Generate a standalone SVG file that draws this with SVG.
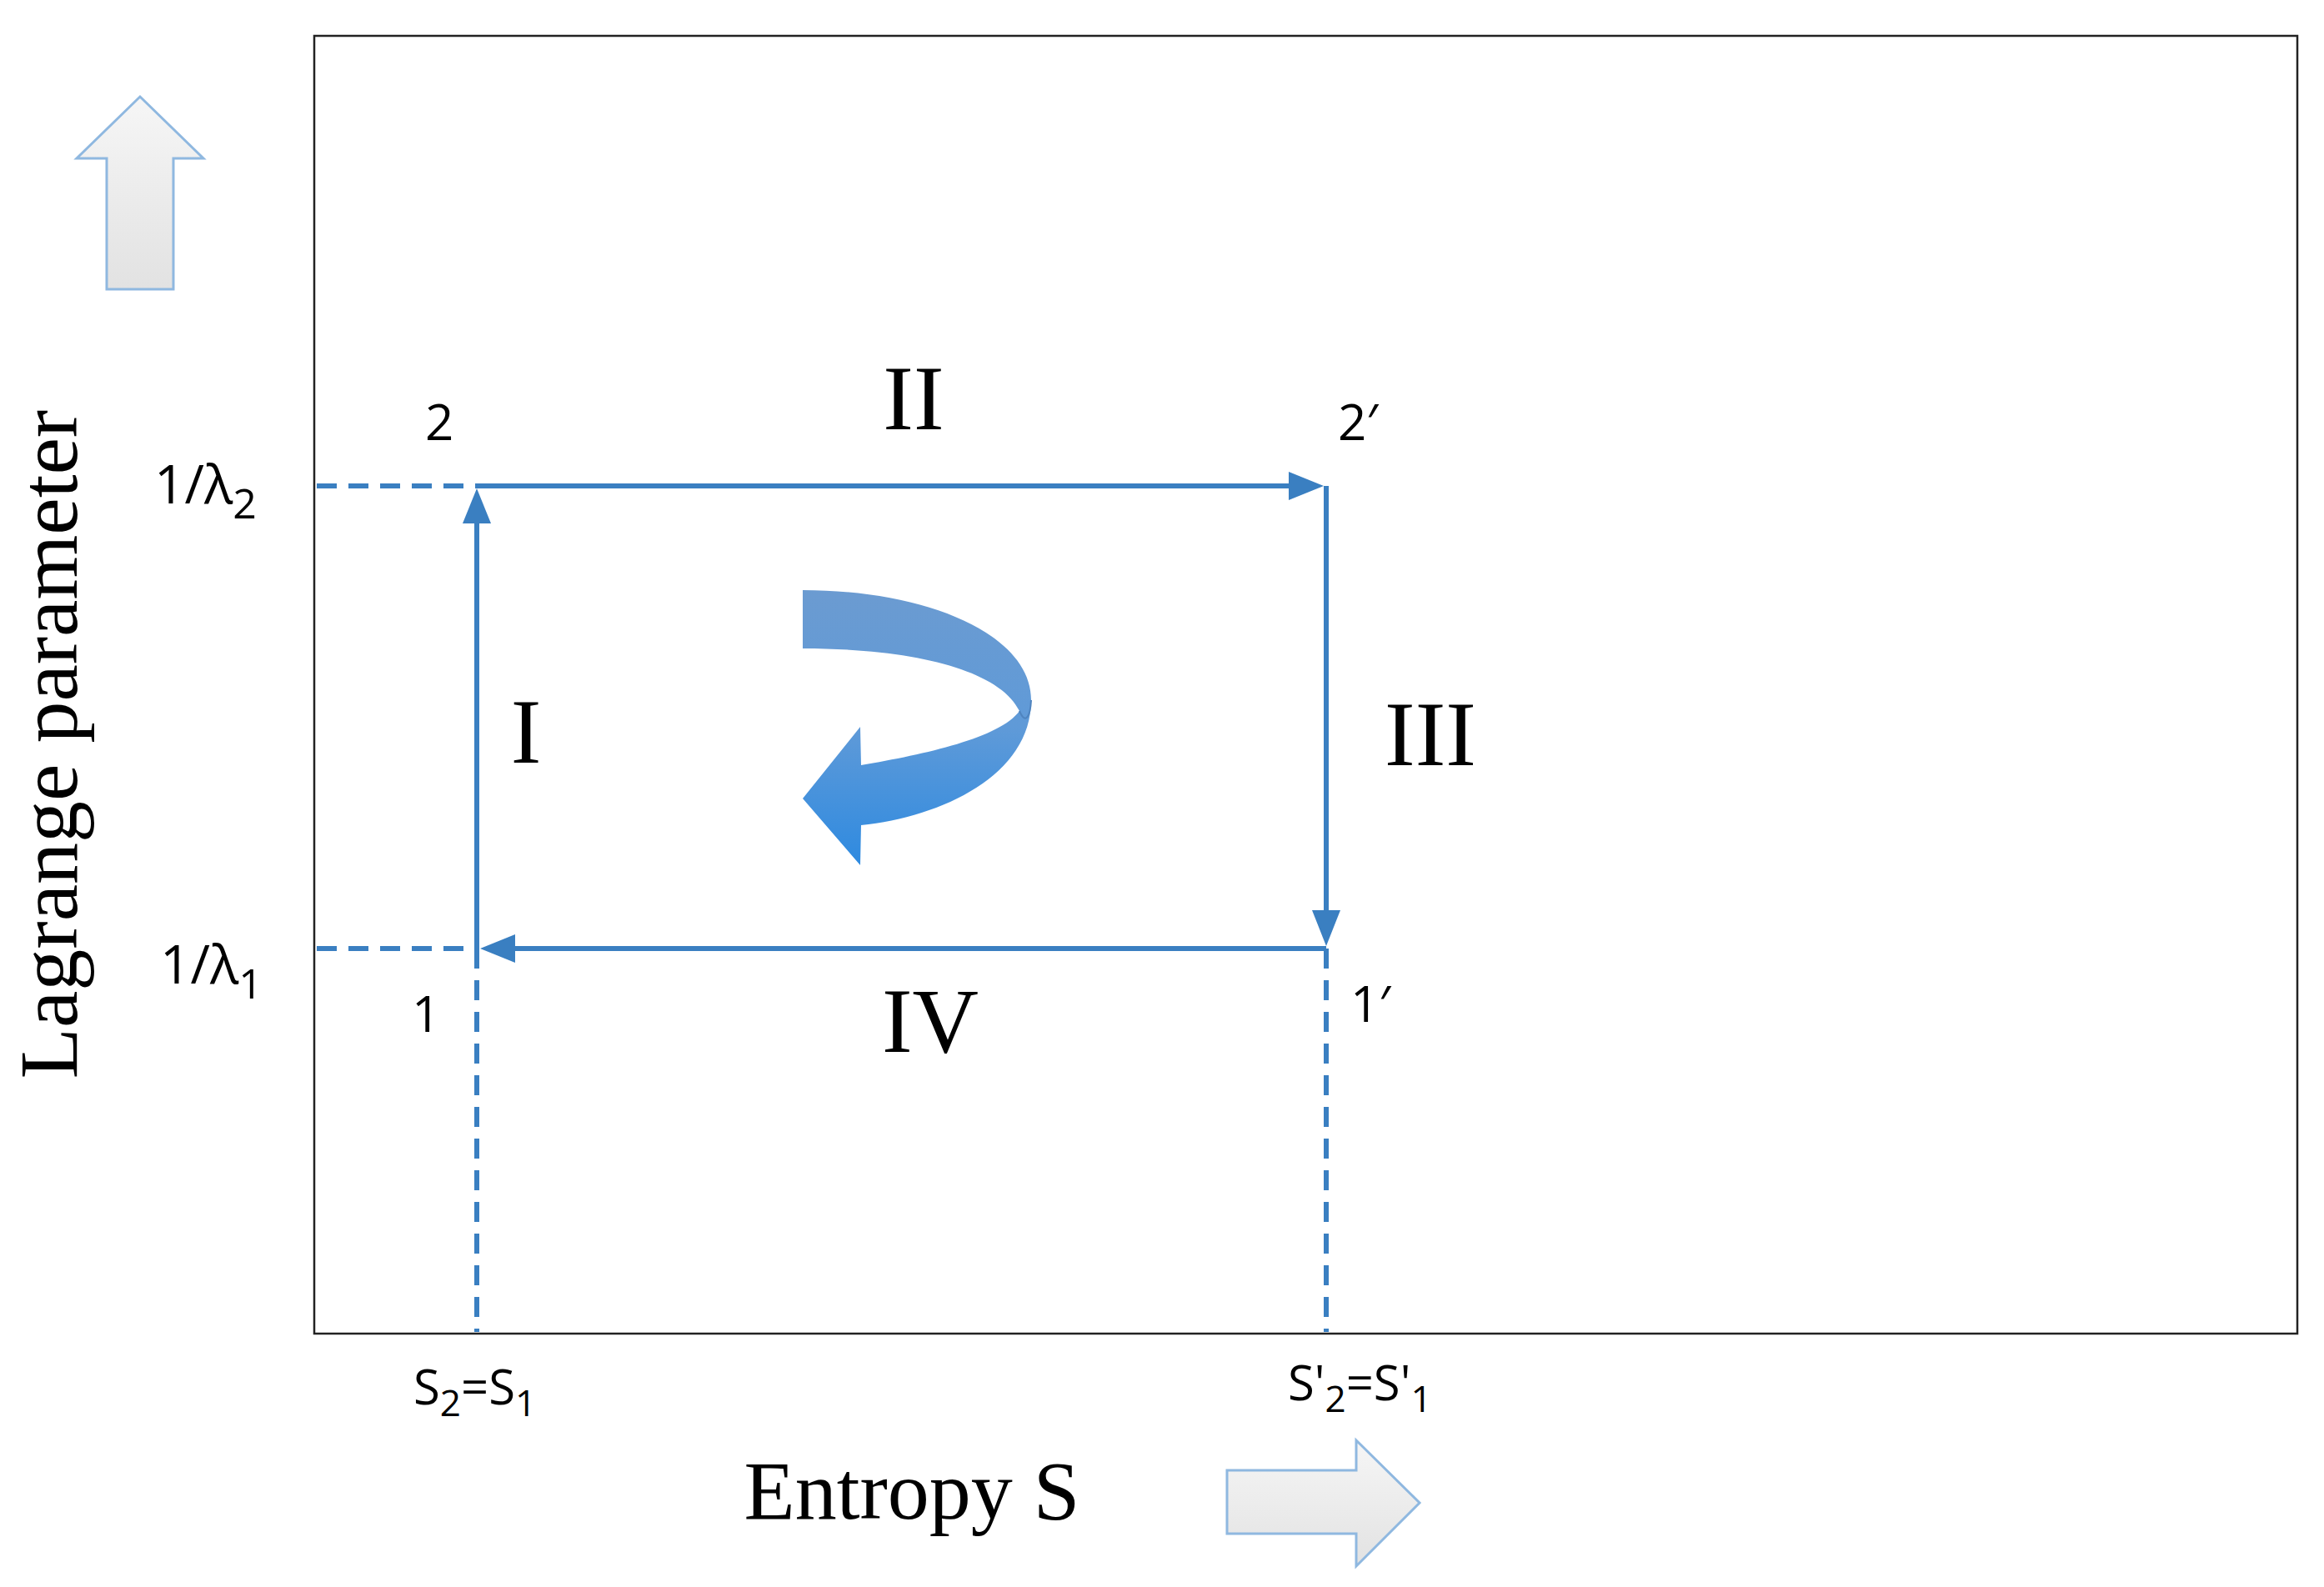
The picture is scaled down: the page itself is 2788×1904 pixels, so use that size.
<svg xmlns="http://www.w3.org/2000/svg" width="2788" height="1904" viewBox="0 0 2788 1904">
<style>
.ln{stroke:#3a7fc1;stroke-width:6;fill:none}
.ds{stroke:#3a7fc1;stroke-width:6;fill:none;stroke-dasharray:24,14}
.sans{font-family:"Open Sans","Liberation Sans",sans-serif;fill:#000}
.serif{font-family:"Liberation Serif",serif;fill:#000}
.big{font-family:"Liberation Serif",serif;font-size:110px;fill:#000;text-anchor:middle}
</style>
<defs>
<linearGradient id="gr" x1="0" y1="0" x2="0" y2="1"><stop offset="0" stop-color="#f6f6f6"/><stop offset="1" stop-color="#e2e2e2"/></linearGradient>
<linearGradient id="cb" x1="0" y1="0" x2="0" y2="1"><stop offset="0" stop-color="#6b9bd1"/><stop offset="0.5" stop-color="#5f9ad8"/><stop offset="1" stop-color="#2e8ae0"/></linearGradient>
</defs>
<rect x="0" y="0" width="2788" height="1904" fill="#fff"/>
<rect id="frame" x="377" y="43" width="2379" height="1557" fill="none" stroke="#222" stroke-width="2.5"/>
<g id="connectors">
<line class="ds" x1="380" y1="583" x2="572" y2="583"/>
<line class="ds" x1="380" y1="1138" x2="572" y2="1138"/>
<line class="ds" x1="572" y1="1138" x2="572" y2="1598"/>
<line class="ds" x1="1591" y1="1138" x2="1591" y2="1598"/>
<path class="ln" d="M572,1138 L572,600"/>
<path d="M555,628 L572,586 L589,628 Z" fill="#3a7fc1"/>
<path class="ln" d="M572,583 L1570,583"/>
<path d="M1546,566 L1588,583 L1546,600 Z" fill="#3a7fc1"/>
<path class="ln" d="M1591,583 L1591,1120"/>
<path d="M1574,1092 L1591,1135 L1608,1092 Z" fill="#3a7fc1"/>
<path class="ln" d="M1591,1138 L590,1138"/>
<path d="M618,1121 L576,1138 L618,1155 Z" fill="#3a7fc1"/>
</g>
<g id="cycle-arrow">
<path d="M963,708 C1110,708 1237,760 1237,840 C1237,930 1130,980 1033,990 L1032,1038 L963,958 L1032,872 L1033,918 C1110,905 1200,885 1223,853 C1200,805 1100,778 963,778 Z" fill="url(#cb)"/>
<path d="M1223,853 C1230,870 1236,860 1237,840" fill="none" stroke="#4f84bf" stroke-width="2"/>
</g>
<g id="up-arrow"><path d="M128,347 L128,190 L92,190 L168,116 L244,190 L208,190 L208,347 Z" fill="url(#gr)" stroke="#8fb8e0" stroke-width="3"/></g>
<g id="right-arrow"><path d="M1472,1764 L1627,1764 L1627,1728 L1703,1803 L1627,1879 L1627,1840 L1472,1840 Z" fill="url(#gr)" stroke="#8fb8e0" stroke-width="3"/></g>
<g id="labels">
<text class="big" x="1096" y="515">II</text>
<text class="big" x="631" y="915">I</text>
<text class="big" x="1716" y="918">III</text>
<text class="big" x="1116" y="1262">IV</text>
<text class="sans" font-size="60" x="510" y="528">2</text>
<text class="sans" font-size="60" x="1605" y="528">2′</text>
<text class="sans" font-size="60" x="494" y="1238">1</text>
<text class="sans" font-size="60" x="1620" y="1226">1′</text>
<text class="sans" font-size="64" x="185" y="604">1/λ<tspan font-size="50" dy="18">2</tspan></text>
<text class="sans" font-size="64" x="192" y="1180">1/λ<tspan font-size="50" dy="18">1</tspan></text>
<text class="sans" font-size="58" x="496" y="1685">S<tspan font-size="44" dy="14">2</tspan><tspan dy="-14">=S</tspan><tspan font-size="44" dy="14">1</tspan></text>
<text class="sans" font-size="58" x="1545" y="1680">S'<tspan font-size="44" dy="14">2</tspan><tspan dy="-14">=S'</tspan><tspan font-size="44" dy="14">1</tspan></text>
<text class="serif" font-size="100" x="1094" y="1822" text-anchor="middle">Entropy S</text>
<text class="serif" font-size="100" transform="translate(92,893) rotate(-90)" text-anchor="middle">Lagrange parameter</text>
</g>
</svg>
